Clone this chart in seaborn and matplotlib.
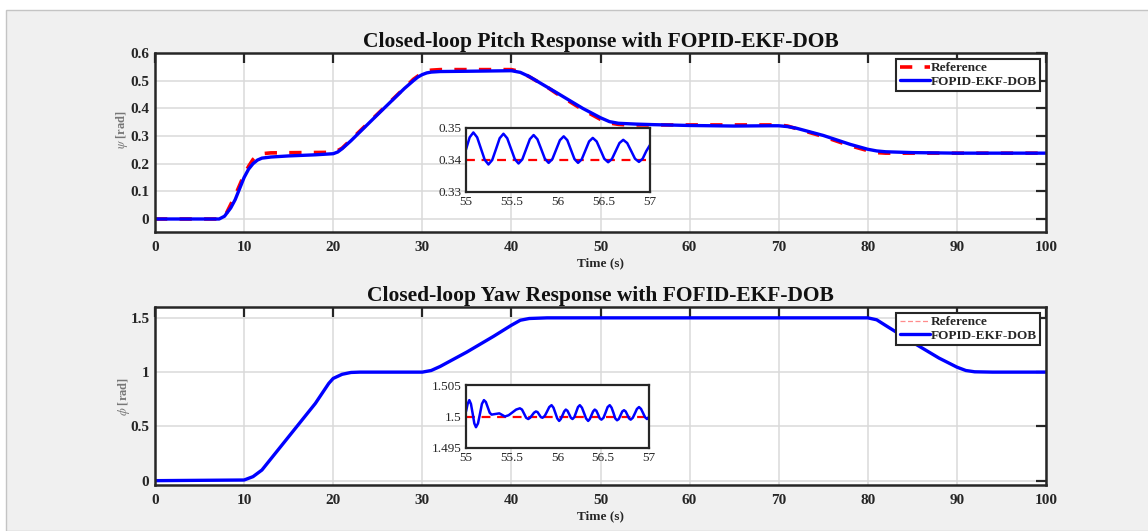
import matplotlib
matplotlib.use("Agg")
import matplotlib.pyplot as plt
from matplotlib.patches import Rectangle
import seaborn as sns

# ---- pitch (psi) data ----
pitch_t = [0, 7.2, 7.8, 8.5, 9, 9.5, 10, 10.5, 11, 11.5, 12, 13, 15, 18, 20, 20.5, 21, 22,
           25, 28, 29, 29.5, 30, 30.5, 31, 32, 35, 40, 41, 42, 45, 48, 50, 51, 52, 54, 56,
           60, 65, 69, 70, 71, 72, 75, 78, 80, 81, 82, 85, 90, 100]
pitch_out = [0, 0, 0.01, 0.04, 0.07, 0.11, 0.15, 0.18, 0.20, 0.213, 0.22, 0.224, 0.228, 0.232,
             0.236, 0.242, 0.254, 0.283, 0.378, 0.472, 0.500, 0.513, 0.522, 0.528, 0.531,
             0.533, 0.534, 0.536, 0.530, 0.515, 0.458, 0.400, 0.366, 0.352, 0.346, 0.343,
             0.341, 0.338, 0.336, 0.337, 0.337, 0.334, 0.328, 0.302, 0.270, 0.252, 0.246,
             0.243, 0.240, 0.238, 0.238]

pitch_ref_t = [0, 7.3, 8, 9, 10, 10.5, 11, 11.5, 12, 13, 20, 20.5, 21, 25, 29, 30, 30.5, 31,
               32, 40, 41, 44, 45, 48, 50, 51, 52, 53, 70, 71, 75, 78, 80, 81, 82, 100]
pitch_ref = [0, 0, 0.02, 0.085, 0.16, 0.19, 0.215, 0.23, 0.236, 0.239, 0.241, 0.247, 0.256,
             0.380, 0.505, 0.528, 0.535, 0.538, 0.540, 0.540, 0.533, 0.477, 0.455, 0.395,
             0.36, 0.347, 0.342, 0.340, 0.340, 0.336, 0.298, 0.265, 0.247, 0.240, 0.238, 0.238]

# pitch zoom window 55..57 s
pz_t = [55.0, 55.04, 55.08, 55.121, 55.162, 55.203, 55.244, 55.285, 55.326, 55.366, 55.407,
        55.448, 55.489, 55.53, 55.571, 55.612, 55.653, 55.694, 55.735, 55.776, 55.817,
        55.857, 55.898, 55.939, 55.98, 56.021, 56.062, 56.101, 56.14, 56.179, 56.218,
        56.258, 56.298, 56.338, 56.378, 56.42, 56.462, 56.503, 56.545, 56.586, 56.627,
        56.668, 56.709, 56.752, 56.795, 56.837, 56.88, 56.92, 56.96, 57.0]
pz_out = [0.3433, 0.3471, 0.3486, 0.3471, 0.3436, 0.3401, 0.3386, 0.3400, 0.3434, 0.3468,
          0.3482, 0.3468, 0.34355, 0.3403, 0.3389, 0.3402, 0.34335, 0.3465, 0.3478, 0.3465,
          0.34345, 0.3404, 0.3391, 0.3403, 0.34325, 0.3462, 0.3474, 0.3462, 0.34325, 0.3403,
          0.3391, 0.3402, 0.3430, 0.3458, 0.3469, 0.3458, 0.3431, 0.3404, 0.3393, 0.3403,
          0.3428, 0.3453, 0.3463, 0.3453, 0.34285, 0.3404, 0.3394, 0.3404, 0.3428, 0.3447]
pz_ref_t = [55, 57]
pz_ref = [0.340, 0.340]

# ---- yaw (phi) data ----
yaw_t = [0, 10, 11, 12, 15, 18, 19.5, 20, 21, 22, 23, 30, 31, 32, 35, 38, 40, 41, 42, 44,
         80, 81, 82, 85, 88, 90, 91, 92, 94, 100]
yaw_out = [0, 0.006, 0.037, 0.098, 0.405, 0.712, 0.896, 0.942, 0.98, 0.997, 1.0, 1.0, 1.015,
           1.052, 1.185, 1.33, 1.432, 1.478, 1.494, 1.5, 1.5, 1.482, 1.43, 1.276, 1.129,
           1.046, 1.015, 1.003, 1.0, 1.0]
yaw_ref_t = [0, 10, 11, 12, 15, 18, 19.5, 20, 21, 22, 23, 30, 31, 32, 35, 38, 40, 41, 42, 44,
             80, 81, 82, 85, 88, 90, 91, 92, 94, 100]
yaw_ref = [0, 0.005, 0.035, 0.1, 0.405, 0.71, 0.895, 0.94, 0.98, 0.996, 1.0, 1.0, 1.014,
           1.05, 1.185, 1.33, 1.43, 1.477, 1.494, 1.5, 1.5, 1.483, 1.43, 1.276, 1.13,
           1.047, 1.015, 1.003, 1.0, 1.0]

# yaw zoom window 55..57 s
yz_t = [55.0, 55.018, 55.036, 55.054, 55.073, 55.091, 55.109, 55.131, 55.153, 55.174, 55.196,
        55.217, 55.238, 55.259, 55.28, 55.322, 55.364, 55.395, 55.425, 55.466, 55.507,
        55.548, 55.589, 55.612, 55.635, 55.657, 55.68, 55.701, 55.722, 55.743, 55.764,
        55.782, 55.8, 55.818, 55.836, 55.861, 55.886, 55.91, 55.935, 55.956, 55.977,
        55.997, 56.018, 56.036, 56.055, 56.073, 56.091, 56.109, 56.128, 56.146, 56.164,
        56.184, 56.204, 56.224, 56.244, 56.267, 56.29, 56.312, 56.335, 56.353, 56.371,
        56.389, 56.407, 56.425, 56.444, 56.462, 56.48, 56.503, 56.526, 56.548, 56.571,
        56.591, 56.611, 56.631, 56.651, 56.67, 56.689, 56.708, 56.727, 56.745, 56.764,
        56.782, 56.8, 56.823, 56.846, 56.868, 56.891, 56.913, 56.935, 56.956, 56.978,
        56.989, 57.0]
yz_out = [1.5008, 1.5020, 1.5026, 1.5020, 1.50045, 1.4989, 1.4983, 1.4989, 1.50045, 1.5020,
          1.5026, 1.5023, 1.50145, 1.5006, 1.5003, 1.5004, 1.5005, 1.50025, 1.5000, 1.5002,
          1.50065, 1.5011, 1.5013, 1.5011, 1.50045, 1.4998, 1.4996, 1.4998, 1.5002, 1.5006,
          1.5008, 1.5007, 1.5003, 1.4999, 1.4998, 1.5001, 1.5008, 1.5015, 1.5018, 1.5014,
          1.50055, 1.4997, 1.4993, 1.4996, 1.5002, 1.5008, 1.5011, 1.5009, 1.50035, 1.4998,
          1.4996, 1.4999, 1.5007, 1.5015, 1.5018, 1.5014, 1.50055, 1.4997, 1.4993, 1.4996,
          1.5002, 1.5008, 1.5011, 1.5009, 1.5003, 1.4997, 1.4995, 1.4998, 1.50065, 1.5015,
          1.5018, 1.5014, 1.5006, 1.4997, 1.4994, 1.4996, 1.5002, 1.5008, 1.5010, 1.5008,
          1.50025, 1.4997, 1.4995, 1.4998, 1.5005, 1.5012, 1.5015, 1.5012, 1.50055, 1.4999,
          1.4996, 1.4997, 1.5000]
yz_ref_t = [55, 57]
yz_ref = [1.5, 1.5]

x_ticks = [0, 10, 20, 30, 40, 50, 60, 70, 80, 90, 100]
pitch_ticks = [0, 0.1, 0.2, 0.3, 0.4, 0.5, 0.6]
pitch_ticklabels = ["0", "0.1", "0.2", "0.3", "0.4", "0.5", "0.6"]
yaw_ticks = [0, 0.5, 1, 1.5]
yaw_ticklabels = ["0", "0.5", "1", "1.5"]
zoom_xticks = [55, 55.5, 56, 56.5, 57]
zoom_xticklabels = ["55", "55.5", "56", "56.5", "57"]
pz_yticks = [0.33, 0.34, 0.35]
pz_yticklabels = ["0.33", "0.34", "0.35"]
yz_yticks = [1.495, 1.5, 1.505]
yz_yticklabels = ["1.495", "1.5", "1.505"]

sns.set_style("whitegrid")
plt.rcParams['font.family'] = ['Liberation Serif', 'DejaVu Serif']
plt.rcParams['mathtext.fontset'] = 'stix'

W, H = 1148, 531
fig = plt.figure(figsize=(W / 100, H / 100), dpi=100, facecolor='white')
fig.patches.append(Rectangle((6 / W, 0), 1, 1 - 10 / H, transform=fig.transFigure,
                             facecolor='#f0f0f0', edgecolor='#c4c4c4', lw=1, zorder=-10))


def px_axes(x0, y0, x1, y1):
    # pixel box (top-left origin) -> figure axes
    return fig.add_axes([x0 / W, 1 - y1 / H, (x1 - x0) / W, (y1 - y0) / H])


def style_main(ax):
    ax.set_facecolor('white')
    ax.grid(True, color='#dadada', lw=1.1)
    for s in ax.spines.values():
        s.set_color('#262626')
        s.set_linewidth(1.8)
    ax.tick_params(direction='in', length=7, width=1.6, color='#262626',
                   top=True, right=True, labelsize=11, labelcolor='#262626')
    ax.tick_params(axis='x', pad=6.5)
    ax.tick_params(axis='y', pad=4)
    for lab in ax.get_xticklabels() + ax.get_yticklabels():
        lab.set_fontweight('bold')


def style_inset(ax):
    ax.set_facecolor('white')
    ax.grid(False)
    for s in ax.spines.values():
        s.set_color('#262626')
        s.set_linewidth(1.6)
    ax.tick_params(direction='in', length=0, labelsize=9.5, pad=3, labelcolor='#262626')


def make_legend(ax):
    leg = ax.legend(loc='upper right', frameon=True, fancybox=False, framealpha=1,
                    edgecolor='#262626', borderpad=0.25, labelspacing=0.08,
                    handlelength=2.3, handletextpad=0.05, borderaxespad=0.45,
                    prop={'weight': 'bold', 'size': 9.5})
    leg.get_frame().set_linewidth(1.5)
    return leg


# ---------------- pitch ----------------
ax1 = px_axes(155, 53, 1046, 232)
sns.lineplot(x=pitch_ref_t, y=pitch_ref, ax=ax1, color='red', lw=2.6, linestyle=(0, (3.4, 3.4)),
             label='Reference', estimator=None)
sns.lineplot(x=pitch_t, y=pitch_out, ax=ax1, color='blue', lw=2.4, label='FOPID-EKF-DOB',
             estimator=None)
ax1.set_xlim(0, 100)
ax1.set_ylim(-0.047, 0.6)
ax1.set_xticks(x_ticks)
ax1.set_yticks(pitch_ticks)
ax1.set_yticklabels(pitch_ticklabels)
ax1.set_title('Closed-loop Pitch Response with FOPID-EKF-DOB', fontsize=15.5,
              fontweight='bold', pad=4, color='#111111')
ax1.set_xlabel('Time (s)', fontsize=9.5, fontweight='bold', labelpad=2.5)
ax1.set_ylabel(r'$\psi$ [rad]', fontsize=9, fontweight='bold', color='#777777')
ax1.yaxis.set_label_coords(-0.028, 0.57)
style_main(ax1)
make_legend(ax1)

ins1 = px_axes(466, 128, 650, 192)
sns.lineplot(x=pz_ref_t, y=pz_ref, ax=ins1, color='red', lw=1.6, linestyle=(0, (4, 3)),
             estimator=None)
sns.lineplot(x=pz_t, y=pz_out, ax=ins1, color='blue', lw=1.8, estimator=None)
ins1.set_xlim(55, 57)
ins1.set_ylim(0.33, 0.35)
ins1.set_xticks(zoom_xticks)
ins1.set_xticklabels(zoom_xticklabels)
ins1.set_yticks(pz_yticks)
ins1.set_yticklabels(pz_yticklabels)
ins1.set_xlabel('')
ins1.set_ylabel('')
style_inset(ins1)

# ---------------- yaw ----------------
ax2 = px_axes(155, 307, 1046, 485)
sns.lineplot(x=yaw_ref_t, y=yaw_ref, ax=ax2, color='#ff4040', lw=0.9, linestyle=(0, (4, 2)),
             label='Reference', estimator=None)
sns.lineplot(x=yaw_t, y=yaw_out, ax=ax2, color='blue', lw=2.4, label='FOPID-EKF-DOB',
             estimator=None)
ax2.set_xlim(0, 100)
ax2.set_ylim(-0.04, 1.6)
ax2.set_xticks(x_ticks)
ax2.set_yticks(yaw_ticks)
ax2.set_yticklabels(yaw_ticklabels)
ax2.set_title('Closed-loop Yaw Response with FOFID-EKF-DOB', fontsize=15.5,
              fontweight='bold', pad=4, color='#111111')
ax2.set_xlabel('Time (s)', fontsize=9.5, fontweight='bold', labelpad=2.5)
ax2.set_ylabel(r'$\phi$ [rad]', fontsize=9, fontweight='bold', color='#777777')
ax2.yaxis.set_label_coords(-0.026, 0.5)
style_main(ax2)
leg2 = make_legend(ax2)
leg2.get_lines()[0].set_alpha(0.6)

ins2 = px_axes(466, 385, 649, 448)
sns.lineplot(x=yz_ref_t, y=yz_ref, ax=ins2, color='red', lw=1.6, linestyle=(0, (4, 3)),
             estimator=None)
sns.lineplot(x=yz_t, y=yz_out, ax=ins2, color='blue', lw=1.8, estimator=None)
ins2.set_xlim(55, 57)
ins2.set_ylim(1.495, 1.505)
ins2.set_xticks(zoom_xticks)
ins2.set_xticklabels(zoom_xticklabels)
ins2.set_yticks(yz_yticks)
ins2.set_yticklabels(yz_yticklabels)
ins2.set_xlabel('')
ins2.set_ylabel('')
style_inset(ins2)

fig.savefig('out.png', dpi=100, facecolor=fig.get_facecolor())
